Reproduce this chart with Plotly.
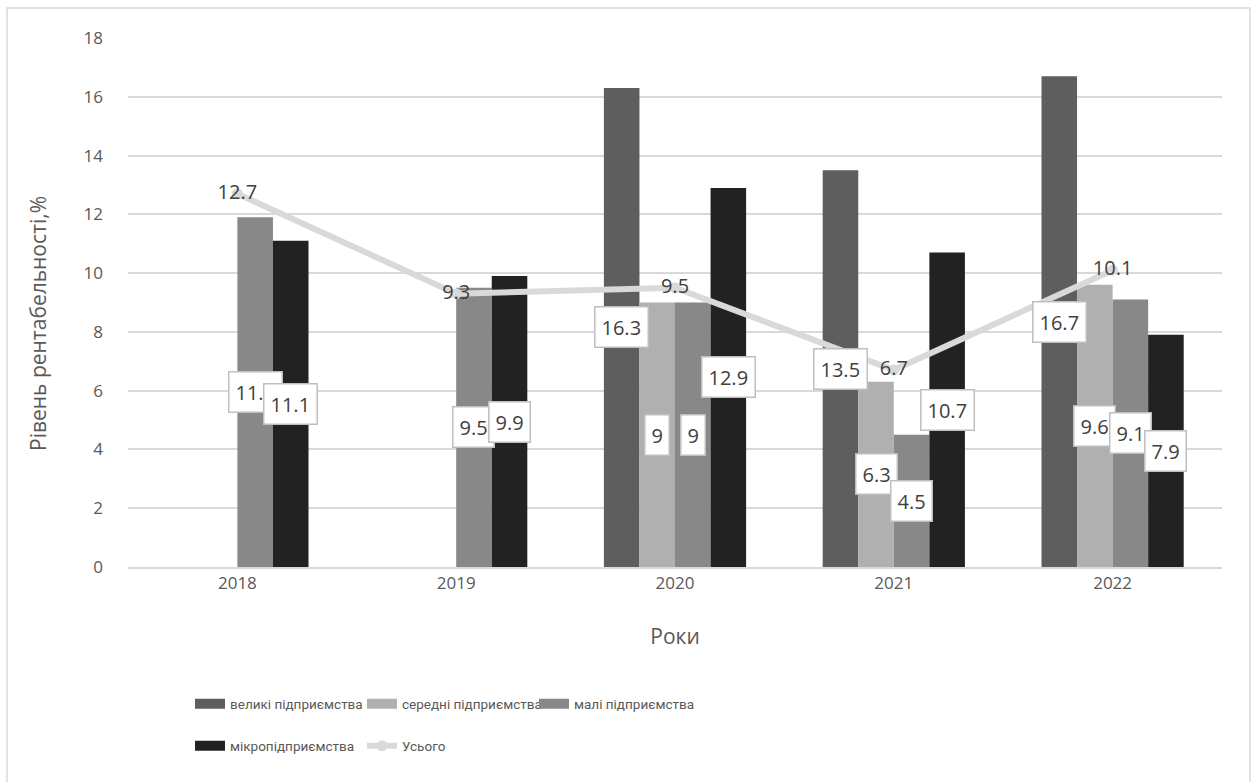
import plotly.graph_objects as go

years = ["2018", "2019", "2020", "2021", "2022"]
large = [None, None, 16.3, 13.5, 16.7]
medium = [None, None, 9.0, 6.3, 9.6]
small = [11.9, 9.5, 9.0, 4.5, 9.1]
micro = [11.1, 9.9, 12.9, 10.7, 7.9]
total = [12.7, 9.3, 9.5, 6.7, 10.1]

names = ["великі підприємства", "середні підприємства", "малі підприємства", "мікропідприємства"]
colors = ["#5e5e5e", "#b0b0b0", "#888888", "#222222"]
series = [large, medium, small, micro]

W, H = 1256, 782
ml, mr, mt, mb = 128, 34, 38, 215
BARGAP = 0.35
FONT = "Open Sans"
LFONT = "Roboto"

fig = go.Figure()
for i, (nm, col, vals) in enumerate(zip(names, colors, series)):
    fig.add_trace(go.Bar(
        x=years, y=vals, name=nm, marker=dict(color=col, line=dict(width=0)),
        showlegend=False,
    ))

fig.add_trace(go.Scatter(
    x=years, y=total, name="Усього", mode="lines+markers+text",
    line=dict(color="#d9d9d9", width=6),
    marker=dict(color="#d9d9d9", size=11),
    text=[f"{v:g}" for v in total], textposition="middle center",
    textfont=dict(family=FONT, size=20, color="#404040"),
    showlegend=False,
))

# legend entries (wide rectangular swatches like the original)
for i, (nm, col) in enumerate(zip(names, colors)):
    fig.add_trace(go.Scatter(
        x=[None], y=[None], name=nm, mode="lines",
        line=dict(color=col, width=11),
        legend="legend" if i < 3 else "legend2",
    ))
fig.add_trace(go.Scatter(
    x=[None], y=[None], name="Усього", mode="lines+markers",
    line=dict(color="#d9d9d9", width=6), marker=dict(color="#d9d9d9", size=11),
    legend="legend2",
))

# data labels for bars: white boxes centred in each bar
nb = len(series)
bw = (1 - BARGAP) / nb
for i, vals in enumerate(series):
    for j, v in enumerate(vals):
        if v is None:
            continue
        fig.add_annotation(
            x=j + (i - (nb - 1) / 2) * bw, y=v / 2, xref="x", yref="y",
            text=f"{v:g}", showarrow=False,
            font=dict(family=FONT, size=20, color="#404040"),
            bgcolor="white", bordercolor="#bfbfbf", borderwidth=1.5, borderpad=6,
        )

pw = W - ml - mr
ph = H - mt - mb

# y-axis title (placed like the original, slightly below centre)
fig.add_annotation(
    x=(38 - ml) / pw, y=(H - mb - 324) / ph, xref="paper", yref="paper",
    xanchor="center", yanchor="middle",
    text="Рівень рентабельності,%", textangle=-90, showarrow=False,
    font=dict(family=FONT, size=21, color="#595959"),
)

fig.add_shape(
    type="rect", xref="paper", yref="paper",
    x0=(7 - ml) / pw, x1=(W - 6 - ml) / pw,
    y0=(mb - H - 20) / ph, y1=(H - mb - 8) / ph,
    line=dict(color="#d9d9d9", width=1.5), fillcolor="rgba(0,0,0,0)", layer="below",
)

legend_common = dict(
    orientation="h", x=(190 - ml) / pw, xanchor="left", yanchor="middle",
    entrywidth=127, entrywidthmode="pixels", font=dict(family=LFONT, size=13.5, color="#595959"),
    bgcolor="rgba(0,0,0,0)", itemwidth=30,
)

fig.update_layout(
    width=W, height=H,
    margin=dict(l=ml, r=mr, t=mt, b=mb),
    paper_bgcolor="white", plot_bgcolor="white",
    barmode="group", bargap=BARGAP, bargroupgap=0,
    font=dict(family=FONT, color="#595959"),
    xaxis=dict(
        type="category", showgrid=False, showline=True, linecolor="#d9d9d9", linewidth=1.5,
        ticks="", tickfont=dict(size=17, color="#595959"),
        title=dict(text="Роки", font=dict(size=21, color="#595959"), standoff=36),
    ),
    yaxis=dict(
        range=[0, 18], dtick=2, showgrid=True, gridcolor="#d9d9d9", gridwidth=1.5,
        zeroline=False, showline=False, ticks="", ticklabelstandoff=24,
        tickfont=dict(size=17, color="#595959"),
    ),
    legend=dict(legend_common, y=(H - mb - 704) / ph),
    legend2=dict(legend_common, y=(H - mb - 746) / ph),
    showlegend=True,
)

fig.write_html("out.html")
